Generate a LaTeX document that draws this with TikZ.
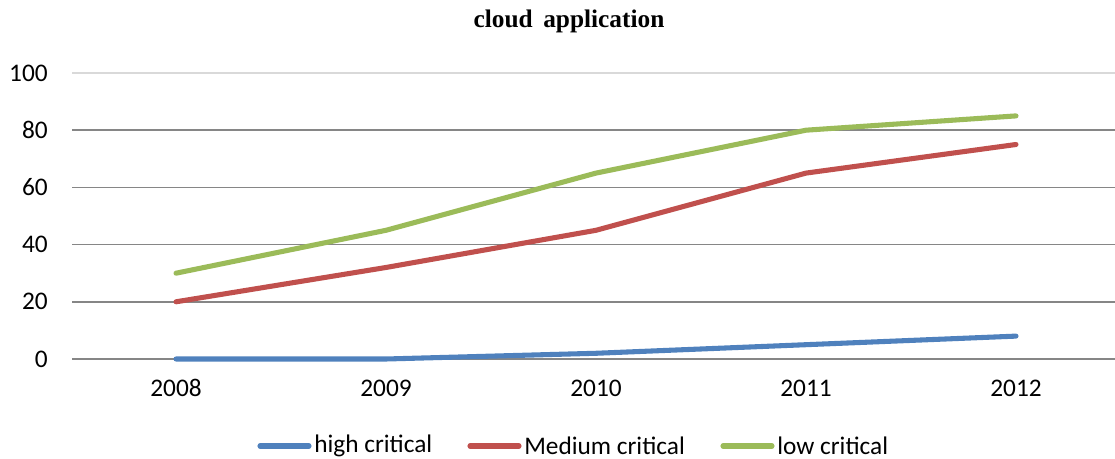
\documentclass[tikz,border=0pt]{standalone}
\usepackage{fontspec}
\setmainfont{Carlito}
\newfontfamily\titlefont{Liberation Serif}
\definecolor{sblue}{HTML}{4F81BD}
\definecolor{sred}{HTML}{C0504D}
\definecolor{sgreen}{HTML}{9BBB59}
\definecolor{gridc}{HTML}{868686}
\definecolor{topgrid}{HTML}{D9D9D9}
\begin{document}
\begin{tikzpicture}[x=0.75pt,y=-0.75pt,
  grid/.style={draw=gridc,line width=1.2pt},
  series/.style={line width=3.8pt,line cap=round,line join=round},
  ticklab/.style={font=\fontsize{19}{22}\selectfont,inner sep=0pt},
  leglab/.style={font=\fontsize{19}{22}\selectfont,inner sep=0pt,anchor=west}]
\useasboundingbox (0,0) rectangle (1115,459);
% title
\node[font=\titlefont\bfseries\fontsize{19}{22}\selectfont,inner sep=0pt] (title) at (569,21) {cloud\, application};
% gridlines
\draw[draw=topgrid,line width=1.2pt] (72,73) -- (1115,73);
\foreach \v in {0,20,40,60,80} {
  \draw[grid] (72,{359-2.86*\v}) -- (1115,{359-2.86*\v});
}
% y labels
\foreach \v in {0,20,40,60,80,100} {
  \node[ticklab,anchor=east] (y\v) at (48,{359-2.86*\v}) {\v};
}
% x labels
\foreach \yr [count=\i from 0] in {2008,2009,2010,2011,2012} {
  \node[ticklab] (x\yr) at ({176+210*\i},388) {\yr};
}
% series
\draw[series,sblue] (176,{359-2.86*0}) -- (386,{359-2.86*0}) -- (596,{359-2.86*2}) -- (806,{359-2.86*5}) -- (1016,{359-2.86*8});
\draw[series,sred] (176,{359-2.86*20}) -- (386,{359-2.86*32}) -- (596,{359-2.86*45}) -- (806,{359-2.86*65}) -- (1016,{359-2.86*75});
\draw[series,sgreen] (176,{359-2.86*30}) -- (386,{359-2.86*45}) -- (596,{359-2.86*65}) -- (806,{359-2.86*80}) -- (1016,{359-2.86*85});
% legend
\coordinate (lb1) at (260,446); \coordinate (lb2) at (309,446);
\draw[series,sblue] (lb1) -- (lb2);
\node[leglab] (lhigh) at (314,446) {high critical};
\coordinate (lr1) at (470,446); \coordinate (lr2) at (519,446);
\draw[series,sred] (lr1) -- (lr2);
\node[leglab] (lmed) at (524,446) {Medium critical};
\coordinate (lg1) at (723,446); \coordinate (lg2) at (772,446);
\draw[series,sgreen] (lg1) -- (lg2);
\node[leglab] (llow) at (777,446) {low critical};
\end{tikzpicture}
\end{document}
